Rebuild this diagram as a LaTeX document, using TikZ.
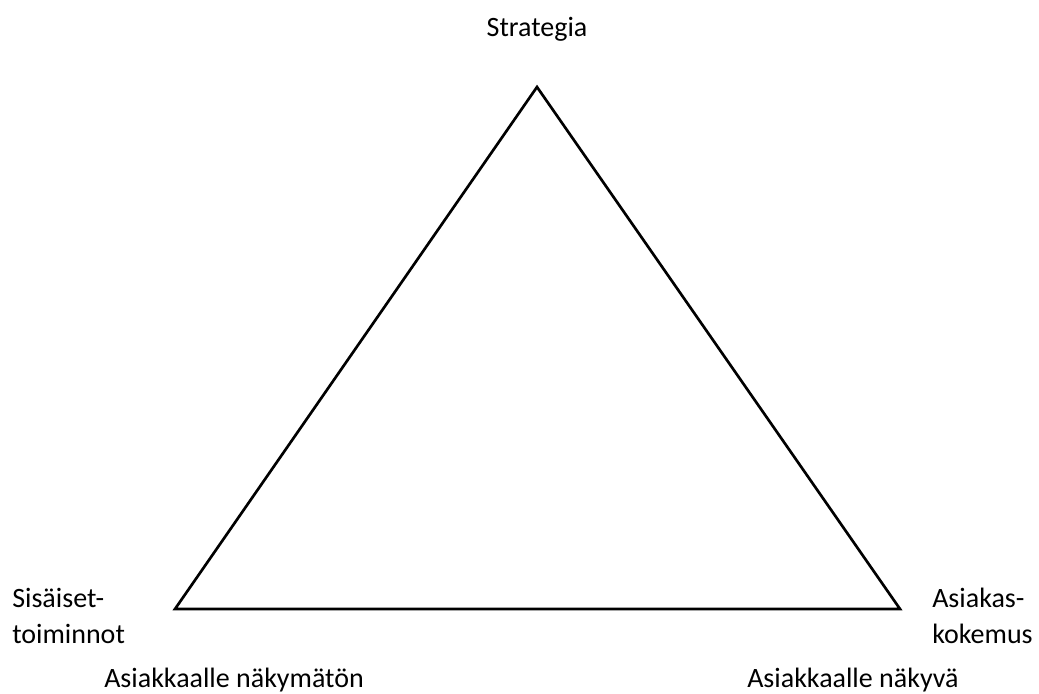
\documentclass[tikz,border=0pt]{standalone}
\usepackage{fontspec}
\setmainfont{Carlito}
\begin{document}
\begin{tikzpicture}[x=0.75pt,y=-0.75pt,
  lbl/.style={font=\fontsize{21}{27}\selectfont, inner sep=0pt, anchor=base west},
  edge/.style={line width=2pt, line join=miter}]
\useasboundingbox (0,0) rectangle (1039,693);
\coordinate (top) at (537,87);
\coordinate (bl) at (175,609);
\coordinate (br) at (900,609);
\draw[edge] (top) -- (bl) -- (br) -- cycle;
\node[lbl, anchor=base] (strat) at (537,36) {Strategia};
\node[lbl] (sis1) at (12,607) {Sisäiset-};
\node[lbl] (sis2) at (12,643) {toiminnot};
\node[lbl] (asi1) at (932,607) {Asiakas-};
\node[lbl] (asi2) at (932,643) {kokemus};
\node[lbl] (nakymaton) at (104,687) {Asiakkaalle näkymätön};
\node[lbl] (nakyva) at (747,687) {Asiakkaalle näkyvä};
\end{tikzpicture}
\end{document}
